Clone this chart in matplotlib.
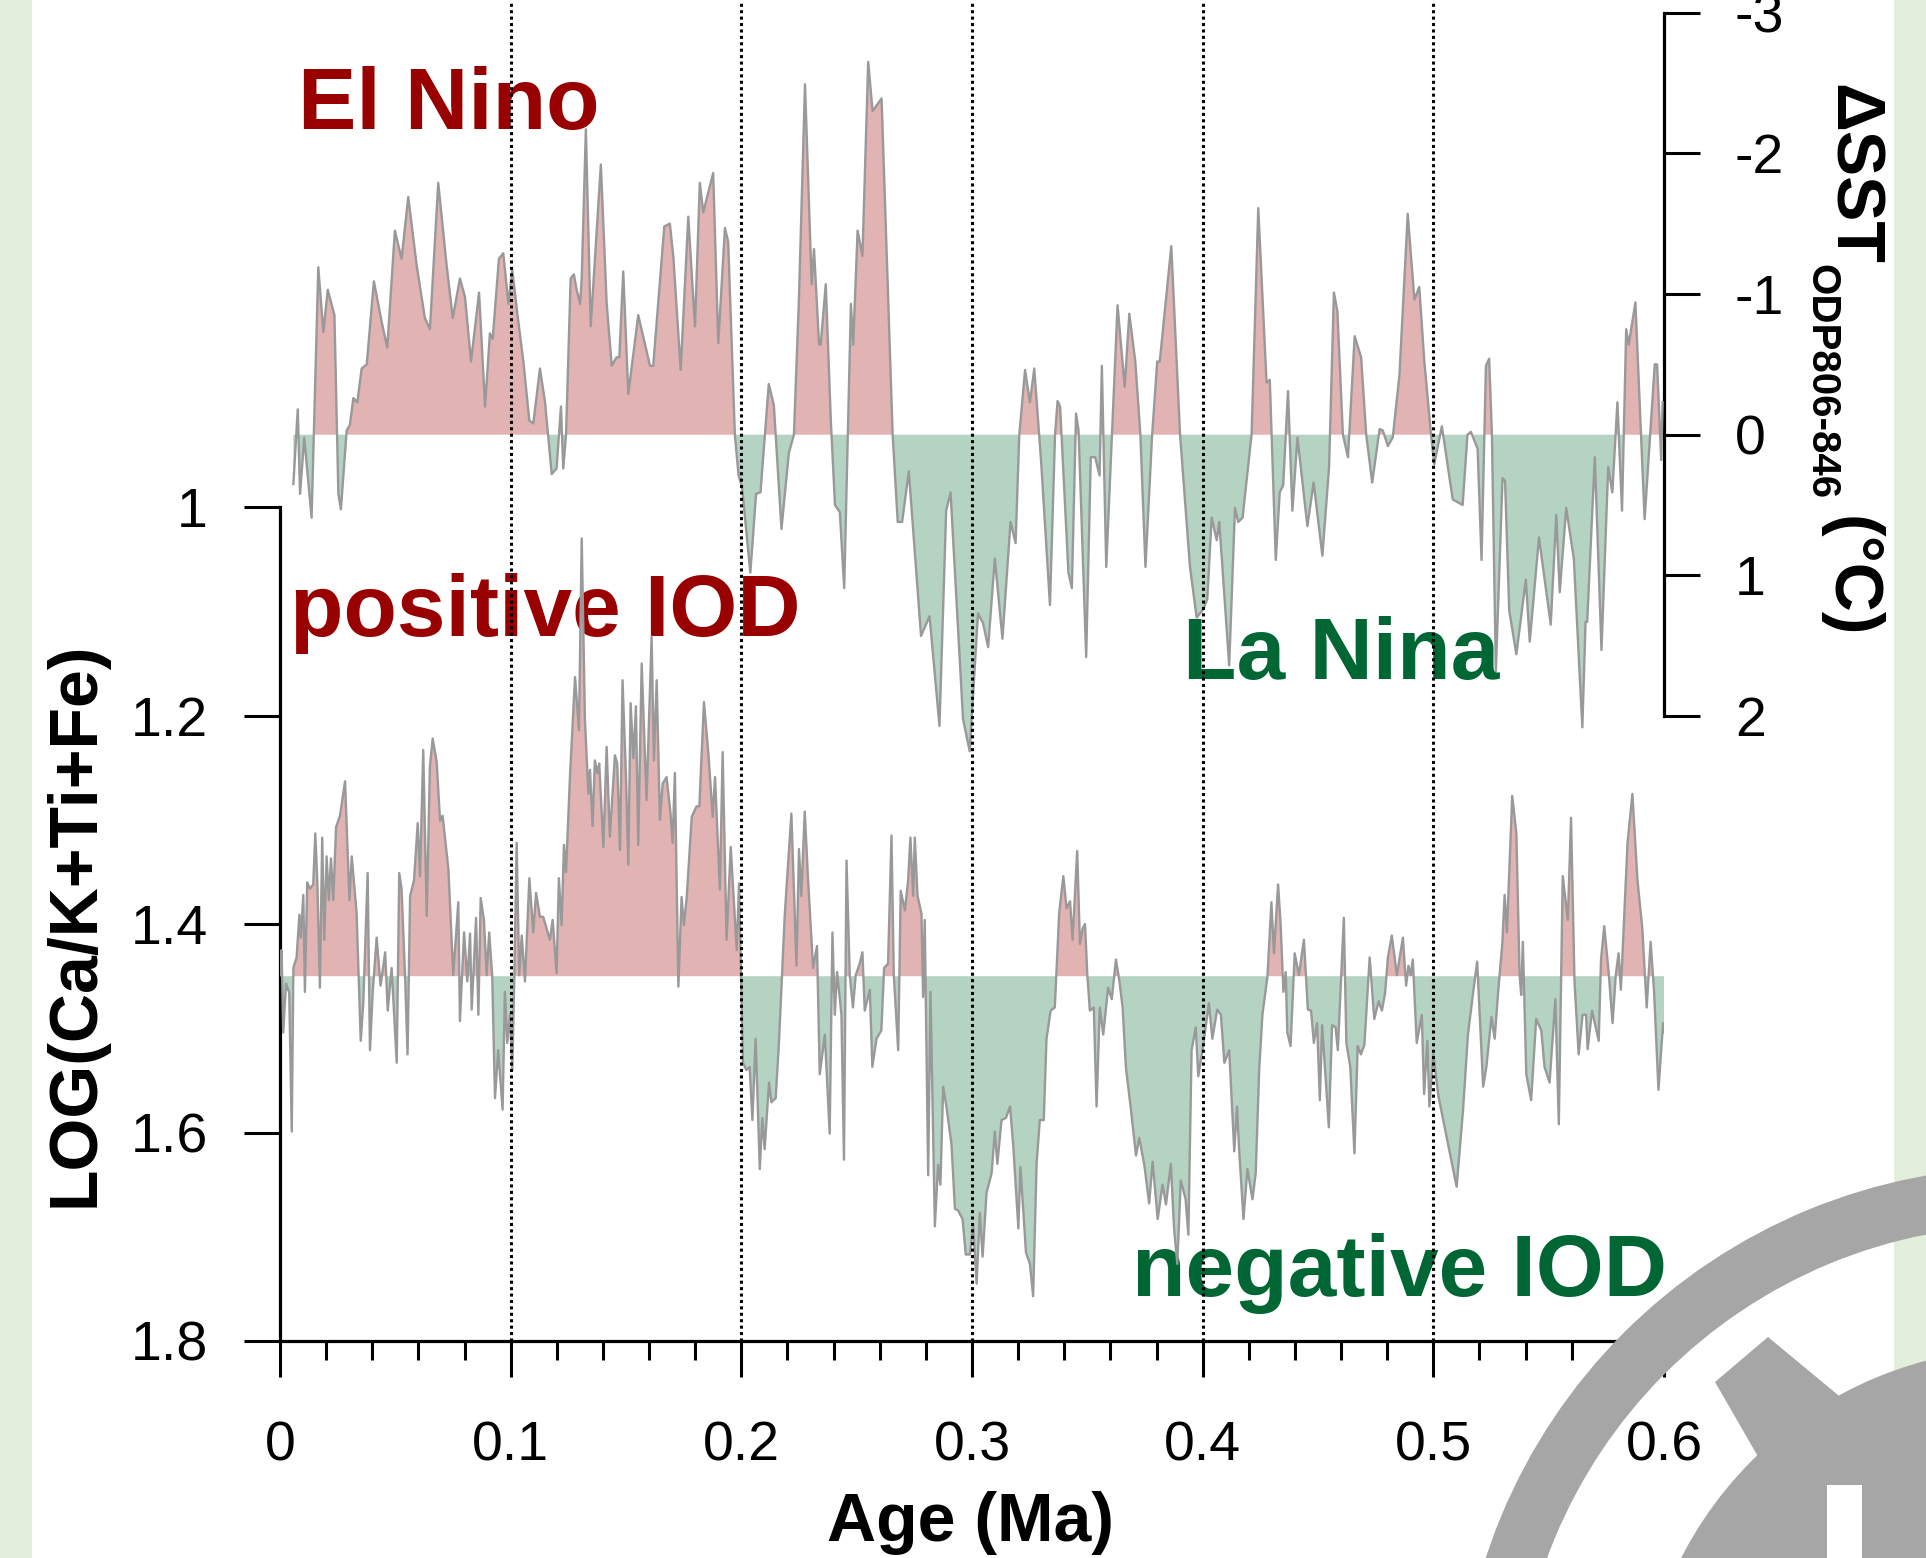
import numpy as np
import matplotlib
matplotlib.use("Agg")
import matplotlib.pyplot as plt
import matplotlib.patches as mpatches

# Delta SST ODP806-846 (top curve, right axis)
age_sst = [0.0058, 0.0077, 0.0087, 0.0105, 0.0137, 0.0166, 0.0188, 0.0207, 0.0236, 0.0253,
           0.0264, 0.0289, 0.0303, 0.0318, 0.0335, 0.0354, 0.0376, 0.0407, 0.0441, 0.0465,
           0.0498, 0.0527, 0.0556, 0.0592, 0.0628, 0.0650, 0.0686, 0.0722, 0.0749, 0.0780,
           0.0802, 0.0828, 0.0863, 0.0889, 0.0910, 0.0922, 0.0949, 0.0968, 0.0990, 0.1007,
           0.1029, 0.1055, 0.1081, 0.1098, 0.1127, 0.1149, 0.1178, 0.1199, 0.1218, 0.1228,
           0.1240, 0.1260, 0.1274, 0.1286, 0.1301, 0.1308, 0.1326, 0.1347, 0.1391, 0.1416,
           0.1438, 0.1459, 0.1471, 0.1488, 0.1510, 0.1553, 0.1604, 0.1618, 0.1666, 0.1690,
           0.1705, 0.1737, 0.1770, 0.1799, 0.1820, 0.1835, 0.1878, 0.1900, 0.1929, 0.1943,
           0.1972, 0.1988, 0.2003, 0.2039, 0.2064, 0.2083, 0.2119, 0.2141, 0.2174, 0.2206,
           0.2228, 0.2250, 0.2276, 0.2305, 0.2315, 0.2337, 0.2344, 0.2366, 0.2388, 0.2406,
           0.2427, 0.2446, 0.2475, 0.2485, 0.2504, 0.2525, 0.2550, 0.2569, 0.2608, 0.2656,
           0.2678, 0.2697, 0.2726, 0.2779, 0.2816, 0.2859, 0.2888, 0.2907, 0.2961, 0.2990,
           0.3026, 0.3048, 0.3070, 0.3099, 0.3132, 0.3167, 0.3189, 0.3205, 0.3230, 0.3251,
           0.3270, 0.3300, 0.3338, 0.3360, 0.3371, 0.3382, 0.3418, 0.3433, 0.3451, 0.3462,
           0.3495, 0.3515, 0.3534, 0.3553, 0.3563, 0.3582, 0.3607, 0.3631, 0.3662, 0.3682,
           0.3708, 0.3730, 0.3752, 0.3781, 0.3803, 0.3814, 0.3864, 0.3902, 0.3945, 0.3974,
           0.4003, 0.4020, 0.4039, 0.4061, 0.4072, 0.4115, 0.4140, 0.4154, 0.4173, 0.4212,
           0.4241, 0.4277, 0.4291, 0.4305, 0.4317, 0.4334, 0.4349, 0.4370, 0.4389, 0.4411,
           0.4454, 0.4481, 0.4519, 0.4548, 0.4569, 0.4584, 0.4608, 0.4630, 0.4659, 0.4687,
           0.4709, 0.4735, 0.4767, 0.4781, 0.4803, 0.4824, 0.4853, 0.4889, 0.4918, 0.4939,
           0.4961, 0.4990, 0.5004, 0.5037, 0.5084, 0.5127, 0.5148, 0.5163, 0.5192, 0.5209,
           0.5228, 0.5242, 0.5254, 0.5271, 0.5300, 0.5311, 0.5329, 0.5360, 0.5401, 0.5418,
           0.5458, 0.5509, 0.5533, 0.5548, 0.5576, 0.5609, 0.5646, 0.5660, 0.5667, 0.5700,
           0.5729, 0.5758, 0.5776, 0.5798, 0.5818, 0.5836, 0.5847, 0.5876, 0.5916, 0.5960,
           0.5970, 0.5988, 0.5994]
dsst = [0.35, -0.18, 0.42, 0.02, 0.59, -1.19, -0.73, -1.03, -0.85, 0.42,
        0.53, -0.03, -0.07, -0.26, -0.23, -0.47, -0.50, -1.09, -0.80, -0.62,
        -1.45, -1.25, -1.69, -1.21, -0.83, -0.75, -1.79, -1.21, -0.83, -1.11,
        -0.98, -0.52, -1.01, -0.20, -0.72, -0.68, -1.25, -1.29, -0.93, -1.17,
        -0.86, -0.52, -0.10, -0.08, -0.47, -0.23, 0.28, 0.24, -0.20, 0.24,
        0.00, -1.11, -1.14, -1.03, -0.93, -1.11, -2.17, -0.77, -1.92, -0.94,
        -0.49, -0.55, -0.55, -1.16, -0.29, -0.85, -0.49, -0.49, -1.48, -1.50,
        -1.27, -0.46, -1.55, -0.77, -1.79, -1.58, -1.86, -0.65, -1.47, -1.37,
        0.00, 0.29, 0.37, 0.98, 0.42, 0.41, -0.36, -0.21, 0.67, 0.13,
        0.00, -0.98, -2.49, -1.07, -1.32, -0.64, -0.64, -1.07, -0.10, 0.50,
        0.55, 1.09, -0.93, -0.64, -1.45, -1.27, -2.65, -2.30, -2.39, 0.00,
        0.62, 0.62, 0.26, 1.43, 1.29, 2.07, 0.54, 0.41, 2.02, 2.25,
        1.27, 1.34, 1.51, 0.88, 1.45, 0.62, 0.77, 0.00, -0.46, -0.23,
        -0.47, 0.20, 1.21, 0.00, -0.24, -0.20, 0.98, 1.09, -0.15, -0.03,
        1.58, 0.16, 0.16, 0.29, -0.49, 0.94, 0.00, -0.92, -0.34, -0.86,
        -0.52, 0.00, 0.94, 0.00, -0.52, -0.52, -1.34, 0.00, 0.94, 1.30,
        1.24, 1.17, 0.59, 0.75, 0.62, 1.64, 0.52, 0.62, 0.59, 0.00,
        -1.61, -0.37, -0.39, 0.29, 0.89, 0.41, 0.36, -0.31, 0.54, 0.02,
        0.65, 0.34, 0.86, 0.23, -1.01, -0.88, 0.00, 0.16, -0.70, -0.55,
        0.00, 0.34, -0.04, -0.03, 0.08, 0.02, -0.42, -1.57, -0.96, -1.05,
        -0.52, 0.00, 0.21, -0.06, 0.46, 0.50, 0.00, -0.02, 0.10, 0.89,
        -0.49, -0.54, 0.00, 1.68, 0.31, 0.33, 1.25, 1.56, 1.03, 1.47,
        0.73, 1.35, 0.57, 1.12, 0.52, 0.88, 2.08, 1.33, 1.33, 0.16,
        1.53, 0.23, 0.41, -0.23, 0.54, -0.75, -0.64, -0.94, 0.60, -0.50,
        -0.50, 0.18, -0.23]

# LOG(Ca/K+Ti+Fe) (bottom curve, left axis)
age_xrf = [0.0000, 0.0007, 0.0014, 0.0026, 0.0040, 0.0051, 0.0058, 0.0072, 0.0084, 0.0090,
           0.0101, 0.0108, 0.0118, 0.0130, 0.0144, 0.0153, 0.0162, 0.0173, 0.0183, 0.0192,
           0.0202, 0.0212, 0.0221, 0.0231, 0.0243, 0.0260, 0.0282, 0.0301, 0.0311, 0.0332,
           0.0350, 0.0361, 0.0380, 0.0390, 0.0402, 0.0419, 0.0436, 0.0456, 0.0467, 0.0484,
           0.0506, 0.0517, 0.0527, 0.0542, 0.0553, 0.0564, 0.0581, 0.0597, 0.0607, 0.0621,
           0.0636, 0.0650, 0.0662, 0.0679, 0.0694, 0.0705, 0.0730, 0.0751, 0.0773, 0.0780,
           0.0798, 0.0812, 0.0824, 0.0831, 0.0850, 0.0860, 0.0870, 0.0884, 0.0896, 0.0907,
           0.0920, 0.0932, 0.0946, 0.0965, 0.0975, 0.0985, 0.0997, 0.1007, 0.1016, 0.1026,
           0.1037, 0.1048, 0.1062, 0.1081, 0.1098, 0.1110, 0.1127, 0.1141, 0.1170, 0.1182,
           0.1199, 0.1209, 0.1221, 0.1231, 0.1240, 0.1257, 0.1279, 0.1296, 0.1308, 0.1322,
           0.1337, 0.1344, 0.1355, 0.1365, 0.1376, 0.1384, 0.1402, 0.1416, 0.1430, 0.1452,
           0.1462, 0.1474, 0.1485, 0.1500, 0.1510, 0.1520, 0.1532, 0.1543, 0.1553, 0.1568,
           0.1589, 0.1611, 0.1621, 0.1633, 0.1647, 0.1659, 0.1676, 0.1693, 0.1702, 0.1712,
           0.1727, 0.1741, 0.1751, 0.1763, 0.1785, 0.1806, 0.1818, 0.1838, 0.1857, 0.1876,
           0.1886, 0.1907, 0.1919, 0.1936, 0.1954, 0.1968, 0.1980, 0.1990, 0.2000, 0.2007,
           0.2022, 0.2036, 0.2048, 0.2062, 0.2080, 0.2091, 0.2101, 0.2120, 0.2130, 0.2149,
           0.2163, 0.2174, 0.2188, 0.2217, 0.2239, 0.2250, 0.2260, 0.2275, 0.2289, 0.2311,
           0.2328, 0.2340, 0.2362, 0.2383, 0.2395, 0.2405, 0.2415, 0.2434, 0.2445, 0.2456,
           0.2470, 0.2484, 0.2496, 0.2513, 0.2525, 0.2535, 0.2557, 0.2568, 0.2586, 0.2607,
           0.2619, 0.2636, 0.2651, 0.2661, 0.2680, 0.2691, 0.2709, 0.2723, 0.2733, 0.2745,
           0.2752, 0.2764, 0.2781, 0.2788, 0.2795, 0.2810, 0.2820, 0.2839, 0.2853, 0.2863,
           0.2875, 0.2889, 0.2911, 0.2926, 0.2940, 0.2959, 0.2973, 0.2991, 0.3005, 0.3020,
           0.3034, 0.3046, 0.3063, 0.3085, 0.3099, 0.3110, 0.3128, 0.3147, 0.3165, 0.3179,
           0.3201, 0.3210, 0.3234, 0.3251, 0.3265, 0.3280, 0.3294, 0.3311, 0.3323, 0.3341,
           0.3359, 0.3378, 0.3396, 0.3410, 0.3425, 0.3436, 0.3446, 0.3456, 0.3468, 0.3480,
           0.3490, 0.3500, 0.3511, 0.3528, 0.3540, 0.3554, 0.3569, 0.3590, 0.3606, 0.3624,
           0.3638, 0.3653, 0.3667, 0.3689, 0.3711, 0.3725, 0.3747, 0.3768, 0.3783, 0.3805,
           0.3826, 0.3841, 0.3862, 0.3876, 0.3890, 0.3905, 0.3926, 0.3938, 0.3952, 0.3970,
           0.3981, 0.4001, 0.4027, 0.4042, 0.4063, 0.4079, 0.4094, 0.4115, 0.4137, 0.4149,
           0.4158, 0.4177, 0.4194, 0.4216, 0.4230, 0.4245, 0.4259, 0.4281, 0.4298, 0.4309,
           0.4327, 0.4338, 0.4350, 0.4360, 0.4367, 0.4381, 0.4399, 0.4417, 0.4439, 0.4456,
           0.4470, 0.4482, 0.4496, 0.4508, 0.4518, 0.4547, 0.4561, 0.4576, 0.4586, 0.4597,
           0.4612, 0.4623, 0.4640, 0.4658, 0.4672, 0.4686, 0.4701, 0.4724, 0.4744, 0.4763,
           0.4777, 0.4791, 0.4803, 0.4820, 0.4842, 0.4868, 0.4882, 0.4892, 0.4902, 0.4911,
           0.4928, 0.4950, 0.4960, 0.4974, 0.4983, 0.5000, 0.5022, 0.5101, 0.5129, 0.5150,
           0.5173, 0.5190, 0.5216, 0.5230, 0.5252, 0.5266, 0.5281, 0.5299, 0.5309, 0.5319,
           0.5342, 0.5360, 0.5374, 0.5381, 0.5388, 0.5403, 0.5424, 0.5446, 0.5468, 0.5482,
           0.5504, 0.5529, 0.5544, 0.5561, 0.5583, 0.5597, 0.5612, 0.5630, 0.5647, 0.5662,
           0.5669, 0.5688, 0.5717, 0.5727, 0.5741, 0.5760, 0.5777, 0.5791, 0.5803, 0.5813,
           0.5842, 0.5863, 0.5885, 0.5906, 0.5925, 0.5942, 0.5957, 0.5976, 0.5996, 0.6000]
log_xrf = [1.449, 1.425, 1.504, 1.457, 1.466, 1.599, 1.442, 1.432, 1.391, 1.413,
           1.372, 1.465, 1.360, 1.366, 1.362, 1.313, 1.360, 1.461, 1.317, 1.415,
           1.335, 1.377, 1.337, 1.377, 1.307, 1.296, 1.263, 1.377, 1.335, 1.389,
           1.512, 1.476, 1.351, 1.521, 1.465, 1.413, 1.459, 1.427, 1.483, 1.442,
           1.533, 1.351, 1.366, 1.449, 1.525, 1.373, 1.358, 1.303, 1.354, 1.233,
           1.392, 1.248, 1.222, 1.244, 1.301, 1.296, 1.347, 1.449, 1.379, 1.493,
           1.408, 1.455, 1.409, 1.482, 1.394, 1.487, 1.375, 1.396, 1.449, 1.408,
           1.450, 1.567, 1.521, 1.578, 1.465, 1.514, 1.487, 1.540, 1.449, 1.322,
           1.449, 1.411, 1.455, 1.356, 1.408, 1.370, 1.393, 1.393, 1.415, 1.396,
           1.447, 1.356, 1.401, 1.324, 1.350, 1.259, 1.163, 1.214, 1.030, 1.204,
           1.275, 1.252, 1.306, 1.243, 1.255, 1.246, 1.326, 1.230, 1.316, 1.238,
           1.246, 1.329, 1.166, 1.259, 1.343, 1.188, 1.241, 1.191, 1.324, 1.150,
           1.281, 1.124, 1.243, 1.166, 1.300, 1.265, 1.259, 1.294, 1.322, 1.255,
           1.460, 1.374, 1.401, 1.375, 1.297, 1.287, 1.287, 1.187, 1.236, 1.297,
           1.259, 1.367, 1.235, 1.415, 1.326, 1.380, 1.425, 1.361, 1.465, 1.533,
           1.540, 1.537, 1.588, 1.510, 1.635, 1.586, 1.616, 1.552, 1.571, 1.567,
           1.514, 1.461, 1.392, 1.294, 1.440, 1.328, 1.373, 1.292, 1.356, 1.442,
           1.421, 1.544, 1.506, 1.601, 1.408, 1.487, 1.446, 1.487, 1.626, 1.339,
           1.449, 1.480, 1.449, 1.438, 1.427, 1.483, 1.463, 1.537, 1.510, 1.502,
           1.442, 1.438, 1.315, 1.449, 1.521, 1.368, 1.387, 1.358, 1.317, 1.373,
           1.317, 1.373, 1.390, 1.470, 1.396, 1.641, 1.465, 1.690, 1.631, 1.650,
           1.556, 1.575, 1.611, 1.673, 1.675, 1.683, 1.717, 1.717, 1.688, 1.745,
           1.677, 1.719, 1.658, 1.639, 1.599, 1.630, 1.588, 1.586, 1.575, 1.613,
           1.692, 1.633, 1.715, 1.726, 1.757, 1.630, 1.588, 1.588, 1.510, 1.483,
           1.480, 1.389, 1.354, 1.385, 1.378, 1.415, 1.373, 1.330, 1.419, 1.404,
           1.400, 1.449, 1.483, 1.480, 1.575, 1.480, 1.506, 1.461, 1.472, 1.434,
           1.453, 1.480, 1.537, 1.578, 1.622, 1.605, 1.631, 1.668, 1.628, 1.683,
           1.650, 1.669, 1.630, 1.692, 1.726, 1.646, 1.664, 1.698, 1.521, 1.499,
           1.546, 1.518, 1.476, 1.510, 1.482, 1.487, 1.533, 1.521, 1.618, 1.575,
           1.616, 1.683, 1.635, 1.664, 1.639, 1.540, 1.487, 1.450, 1.379, 1.428,
           1.362, 1.400, 1.465, 1.446, 1.504, 1.517, 1.428, 1.449, 1.415, 1.482,
           1.483, 1.514, 1.495, 1.569, 1.497, 1.595, 1.497, 1.499, 1.521, 1.468,
           1.394, 1.514, 1.537, 1.620, 1.517, 1.525, 1.516, 1.432, 1.491, 1.474,
           1.483, 1.466, 1.432, 1.411, 1.449, 1.413, 1.459, 1.440, 1.449, 1.434,
           1.514, 1.487, 1.563, 1.512, 1.575, 1.525, 1.565, 1.652, 1.578, 1.506,
           1.465, 1.436, 1.556, 1.537, 1.489, 1.510, 1.465, 1.419, 1.372, 1.408,
           1.277, 1.313, 1.449, 1.468, 1.417, 1.544, 1.569, 1.491, 1.502, 1.537,
           1.552, 1.472, 1.592, 1.354, 1.396, 1.298, 1.455, 1.525, 1.487, 1.487,
           1.520, 1.483, 1.512, 1.434, 1.402, 1.446, 1.495, 1.449, 1.428, 1.463,
           1.322, 1.275, 1.358, 1.404, 1.480, 1.417, 1.465, 1.559, 1.495, 1.504]

xrf_base = 1.45
sst_base = 0.0
age_ticks = [0, 0.1, 0.2, 0.3, 0.4, 0.5, 0.6]
age_labels = ["0", "0.1", "0.2", "0.3", "0.4", "0.5", "0.6"]
xrf_ticks = [1.0, 1.2, 1.4, 1.6, 1.8]
xrf_labels = ["1", "1.2", "1.4", "1.6", "1.8"]
sst_ticks = [-3, -2, -1, 0, 1, 2]
sst_labels = ["-3", "-2", "-1", "0", "1", "2"]

RED = "#e1b3b3"
GREEN = "#b4d3c3"
LINE = "#999999"
DARKRED = "#990000"
DARKGREEN = "#006633"

plt.rcParams["font.family"] = ["Liberation Sans", "DejaVu Sans"]

W, H = 1926, 1558
fig = plt.figure(figsize=(W / 100, H / 100), dpi=100, facecolor="white")

# light green side strips and watermark are drawn in pixel units
pix = fig.dpi_scale_trans
def P(x, y):
    return (x / 100, (H - y) / 100)

for x0 in (0, 1894):
    fig.add_artist(mpatches.Rectangle(P(x0, H), 32 / 100, H / 100, transform=pix,
                                      color="#e2efda", lw=0, zorder=-1))

ax = fig.add_axes([280 / W, (H - 1341) / H, 1384 / W, 1341 / H])
ax.set_xlim(0, 0.6)
ax.set_ylim(1.8, 1 - 507.2 / 1042.3)
ax.patch.set_alpha(0)

x1 = np.array(age_xrf)
y1 = np.array(log_xrf)
ax.fill_between(x1, y1, xrf_base, where=y1 <= xrf_base, interpolate=True,
                color=RED, lw=0, zorder=2)
ax.fill_between(x1, y1, xrf_base, where=y1 >= xrf_base, interpolate=True,
                color=GREEN, lw=0, zorder=2)
ax.plot(x1, y1, color=LINE, lw=1.7, zorder=3)

ax2 = ax.twinx()
ax2.set_ylim((1341 - 434.7) / 140.7, -434.7 / 140.7)
x2 = np.array(age_sst)
y2 = np.array(dsst)
ax2.fill_between(x2, y2, sst_base, where=y2 <= sst_base, interpolate=True,
                 color=RED, lw=0, zorder=2)
ax2.fill_between(x2, y2, sst_base, where=y2 >= sst_base, interpolate=True,
                 color=GREEN, lw=0, zorder=2)
ax2.plot(x2, y2, color=LINE, lw=1.7, zorder=3)

for a in age_ticks[1:-1]:
    ax2.axvline(a, color="black", lw=2.2, linestyle=(0, (1, 1.1)), zorder=5)

# spines
for s in ("top", "right"):
    ax.spines[s].set_visible(False)
for s in ("top", "left", "bottom"):
    ax2.spines[s].set_visible(False)
ax.spines["left"].set_bounds(1.0, 1.8)
ax.spines["bottom"].set_bounds(0, 0.6)
ax2.spines["right"].set_bounds(-3, 2)
for sp in (ax.spines["left"], ax.spines["bottom"], ax2.spines["right"]):
    sp.set_linewidth(2.3)

ax.set_xticks(age_ticks)
ax.set_xticklabels(age_labels)
ax.set_xticks(np.arange(0, 0.601, 0.02), minor=True)
ax.set_yticks(xrf_ticks)
ax.set_yticklabels(xrf_labels)
ax2.set_yticks(sst_ticks)
ax2.set_yticklabels(sst_labels)

ax.tick_params(axis="x", which="major", length=26, width=2.2, pad=31, labelsize=40)
ax.tick_params(axis="x", which="minor", length=13.5, width=2.2)
ax.tick_params(axis="y", length=26, width=2.2, pad=26, labelsize=40)
ax2.tick_params(axis="y", length=26, width=2.2, pad=25, labelsize=40)

# axis labels
fig.text(76 / W, 1 - 924 / H, "LOG(Ca/K+Ti+Fe)", rotation=90, ha="center",
         va="center", fontsize=49, fontweight="bold")
fig.text(970 / W, 1 - 1541 / H, "Age (Ma)", ha="center", va="baseline",
         fontsize=49, fontweight="bold")
fig.text(1852 / W, 1 - 84 / H, "\u0394SST", rotation=-90, ha="center", va="top",
         fontsize=49, fontweight="bold")
fig.text(1821 / W, 1 - 264 / H, "ODP806-846", rotation=-90, ha="center", va="top",
         fontsize=29, fontweight="bold")
fig.text(1850 / W, 1 - 516 / H, "(\u00b0C)", rotation=-90, ha="center", va="top",
         fontsize=49, fontweight="bold")

# phase annotations, under the curves
for txt, x, y, c in [("El Nino", 298, 129, DARKRED),
                     ("positive IOD", 290, 636, DARKRED),
                     ("La Nina", 1183, 679, DARKGREEN),
                     ("negative IOD", 1132, 1296, DARKGREEN)]:
    ax.text(x / W, 1 - y / H, txt, transform=fig.transFigure, ha="left",
            va="baseline", fontsize=63, fontweight="bold", color=c, zorder=1)

# grey logo watermark in the lower right corner
GREY = "#a6a6a6"
cx, cy = P(2024, 1733)
fig.add_artist(mpatches.Wedge((cx, cy), 5.66, 0, 360, width=0.58, transform=pix,
                              color=GREY, lw=0, zorder=10))
fig.add_artist(mpatches.Circle((cx, cy), 3.85, transform=pix, color=GREY, lw=0, zorder=10))
tooth = [P(1715, 1382), P(1768, 1337), P(1838, 1395), P(1880, 1450), P(1800, 1500), P(1760, 1460)]
fig.add_artist(mpatches.Polygon(tooth, closed=True, transform=pix, color=GREY, lw=0, zorder=10))
fig.add_artist(mpatches.Rectangle(P(1827, H), 0.35, 0.73, transform=pix,
                                  color="white", lw=0, zorder=11))

plt.savefig("out.png", dpi=100)
